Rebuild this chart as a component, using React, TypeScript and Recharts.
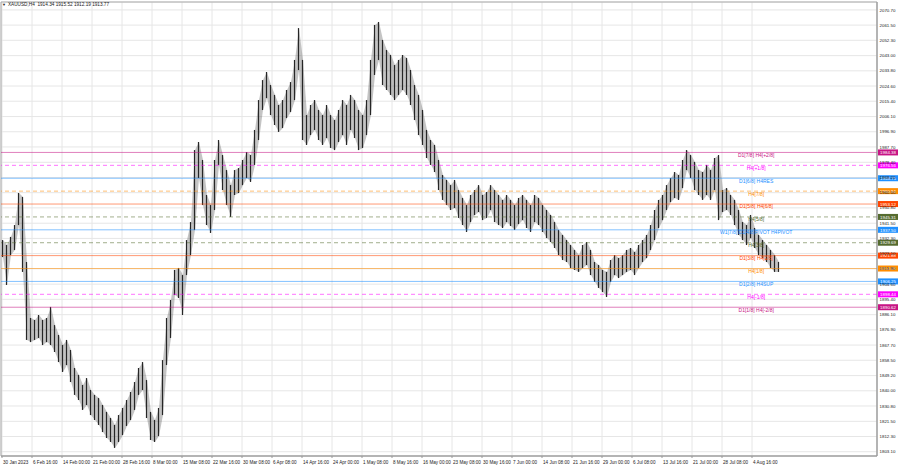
import React from "react";
import {
  Area,
  Bar,
  CartesianGrid,
  ComposedChart,
  ReferenceArea,
  ReferenceLine,
  XAxis,
  YAxis,
} from "recharts";

const HIGHS = [
  1931.3, 1928.3, 1933.2, 1940.4, 1959.8, 1957.4, 1918.0, 1884.1, 1882.9, 1885.9,
  1882.9, 1884.1, 1890.8, 1879.8, 1873.8, 1867.7, 1870.8, 1864.7, 1853.8, 1849.6,
  1843.5, 1847.7, 1840.5, 1837.5, 1835.6, 1831.4, 1827.2, 1823.5, 1819.3, 1825.3,
  1829.6, 1834.4, 1839.3, 1845.3, 1853.8, 1857.4, 1846.5, 1827.2, 1822.3, 1829.6,
  1858.6, 1884.1, 1895.0, 1913.2, 1914.4, 1910.1, 1931.3, 1942.2, 1985.8, 1990.7,
  1979.8, 1958.6, 1952.5, 1979.8, 1991.9, 1982.8, 1973.7, 1964.6, 1973.7, 1974.9,
  1979.8, 1984.6, 1982.8, 1998.0, 2016.1, 2028.2, 2033.1, 2025.2, 2019.2, 2013.1,
  2016.1, 2022.2, 2027.0, 2040.4, 2059.7, 2040.4, 2007.0, 2013.1, 2016.1, 2010.1,
  2007.0, 2013.1, 2007.0, 2004.0, 2010.1, 2016.1, 2013.1, 2019.2, 2016.1, 2010.1,
  2007.0, 2016.1, 2040.4, 2061.6, 2063.4, 2052.5, 2046.4, 2043.4, 2037.3, 2040.4,
  2043.4, 2041.6, 2034.3, 2025.2, 2019.2, 2010.1, 1998.0, 1991.9, 1988.9, 1979.8,
  1970.7, 1967.7, 1964.6, 1967.7, 1961.6, 1956.8, 1952.5, 1958.6, 1961.6, 1964.6,
  1958.6, 1960.4, 1964.6, 1961.6, 1958.6, 1955.6, 1958.6, 1955.6, 1952.5, 1956.8,
  1958.6, 1955.6, 1952.5, 1958.6, 1956.8, 1952.5, 1949.5, 1946.5, 1942.2, 1937.4,
  1934.4, 1931.3, 1928.3, 1925.3, 1922.2, 1928.3, 1930.1, 1925.3, 1918.0, 1916.2,
  1913.2, 1912.0, 1919.2, 1922.2, 1920.4, 1922.2, 1925.3, 1926.5, 1924.1, 1928.3,
  1931.3, 1934.4, 1940.4, 1949.5, 1955.6, 1958.6, 1964.6, 1968.9, 1972.5, 1970.7,
  1979.8, 1985.8, 1982.8, 1978.6, 1973.7, 1972.5, 1976.8, 1973.7, 1981.0, 1982.8,
  1961.6, 1962.8, 1958.6, 1955.6, 1949.5, 1942.2, 1940.4, 1946.5, 1938.6, 1934.4,
  1931.3, 1928.3, 1925.3, 1922.2, 1918.0,
];

const LOWS = [
  1921.0, 1904.1, 1922.2, 1925.3, 1940.4, 1912.0, 1870.8, 1869.5, 1870.8, 1872.0,
  1867.7, 1869.5, 1867.7, 1863.5, 1857.4, 1851.4, 1855.6, 1845.3, 1837.5, 1834.4,
  1828.4, 1831.4, 1825.3, 1822.3, 1819.3, 1815.0, 1811.4, 1809.0, 1805.4, 1809.0,
  1813.2, 1818.7, 1822.3, 1828.4, 1837.5, 1840.5, 1823.5, 1810.2, 1809.0, 1812.6,
  1825.3, 1855.6, 1872.0, 1898.0, 1896.2, 1885.9, 1910.1, 1922.2, 1937.4, 1968.9,
  1952.5, 1940.4, 1935.6, 1949.5, 1976.8, 1961.6, 1952.5, 1945.3, 1958.6, 1959.8,
  1964.6, 1968.9, 1966.5, 1976.8, 1991.9, 2010.1, 2017.3, 2007.0, 2001.0, 1996.8,
  1999.2, 2005.2, 2008.9, 2016.1, 2034.3, 1991.9, 1988.9, 1994.9, 1998.0, 1991.9,
  1988.9, 1993.1, 1987.1, 1985.8, 1990.7, 1994.9, 1988.9, 1998.0, 1993.1, 1985.8,
  1987.1, 1994.9, 2007.0, 2031.3, 2040.4, 2025.2, 2022.2, 2019.2, 2016.1, 2019.2,
  2022.2, 2019.2, 2013.1, 2004.0, 1994.9, 1988.9, 1981.0, 1976.8, 1972.5, 1961.6,
  1955.6, 1952.5, 1949.5, 1950.7, 1944.7, 1940.4, 1936.2, 1942.2, 1946.5, 1948.3,
  1943.4, 1944.7, 1949.5, 1942.2, 1940.4, 1938.6, 1942.2, 1939.8, 1937.4, 1941.0,
  1943.4, 1938.6, 1936.2, 1942.2, 1940.4, 1936.2, 1932.5, 1930.1, 1926.5, 1922.2,
  1919.2, 1918.0, 1914.4, 1913.2, 1912.0, 1914.4, 1916.2, 1910.1, 1905.9, 1902.3,
  1899.8, 1896.8, 1905.9, 1910.1, 1908.3, 1910.1, 1912.0, 1913.2, 1910.1, 1914.4,
  1918.0, 1920.4, 1925.3, 1931.3, 1938.6, 1943.4, 1949.5, 1954.3, 1956.8, 1955.6,
  1962.8, 1973.7, 1968.9, 1961.6, 1958.6, 1955.6, 1958.6, 1955.6, 1961.6, 1943.4,
  1948.3, 1949.5, 1946.5, 1940.4, 1934.4, 1931.3, 1928.3, 1932.5, 1926.5, 1922.2,
  1920.4, 1918.0, 1914.4, 1912.0, 1912.0,
];

const TIME_LABELS = [
  "30 Jan 2023", "6 Feb 16:00", "14 Feb 00:00", "21 Feb 00:00", "28 Feb 16:00",
  "8 Mar 00:00", "15 Mar 08:00", "22 Mar 16:00", "30 Mar 08:00", "6 Apr 08:00",
  "14 Apr 16:00", "24 Apr 00:00", "1 May 08:00", "8 May 16:00", "16 May 00:00",
  "23 May 08:00", "30 May 16:00", "7 Jun 00:00", "14 Jun 08:00", "21 Jun 16:00",
  "29 Jun 00:00", "6 Jul 08:00", "13 Jul 16:00", "21 Jul 00:00", "28 Jul 08:00",
  "4 Aug 16:00",
];

const PRICE_TICKS = [
  2070.7, 2061.5, 2052.3, 2043.0, 2033.8, 2024.6, 2015.4, 2006.1, 1996.9, 1987.7,
  1978.4, 1969.2, 1960.0, 1950.8, 1941.5, 1932.3, 1923.1, 1913.9, 1904.6, 1895.4,
  1886.1, 1876.9, 1867.7, 1858.5, 1849.2, 1840.0, 1830.8, 1821.5, 1812.3, 1803.1,
];

const LEVEL_PRICES = [
  1984.38, 1976.56, 1968.75, 1960.94, 1953.12, 1945.31, 1937.5, 1929.69, 1921.88,
  1914.06, 1906.25, 1898.44, 1890.62,
];
const LEVEL_NAMES = [
  "D1[7/8] H4[+2/8]", "H4[+1/8]", "D1[6/8] H4RES", "H4[7/8]", "D1[5/8] H4[6/8]",
  "H4[5/8]", "W1[7/8] D1[4/8]PIVOT H4PIVOT", "H4[3/8]", "D1[3/8] H4[2/8]", "H4[1/8]",
  "D1[2/8] H4SUP", "H4[-1/8]", "D1[1/8] H4[-2/8]",
];
const TITLE = "XAUUSD,H4  1914.34 1915.52 1912.19 1913.77";

// styles
const LEVEL_COLORS = [
  "#c71585", "#ff00ff", "#1e90ff", "#ff8c00", "#ff4500", "#556b2f", "#1e90ff",
  "#556b2f", "#ff4500", "#ff8c00", "#1e90ff", "#ff00ff", "#c71585",
];
const LEVEL_DASHED = [false, true, false, true, false, true, false, true, false, false, false, true, false];
const FONT = "'Liberation Sans', Arial, sans-serif";
const X_MIN = -0.5;
const X_MAX = 218.5;
const LABEL_SLOT = 188.3;

const rows = HIGHS.map((h, i) => ({ i, range: [LOWS[i], h] }));
const timeTicks = TIME_LABELS.map((_, k) => k * 7.5 - 0.25);

function TimeTick({ x, y, payload }: any) {
  const k = Math.round((payload.value + 0.25) / 7.5);
  return (
    <text x={x + 1} y={y + 6} fontSize={4.6} fill="#222" fontFamily={FONT}>
      {TIME_LABELS[k]}
    </text>
  );
}

function PriceTick({ x, y, payload }: any) {
  return (
    <text x={x + 2.5} y={y + 1.6} fontSize={4.4} fill="#222" fontFamily={FONT}>
      {payload.value.toFixed(2)}
    </text>
  );
}

// thin candle stroke, like a dense H4 chart at low zoom
function Wick({ x, y, width, height }: any) {
  if (height == null || isNaN(height)) return null;
  return <rect x={x + width / 2 - 0.6} y={y} width={1.2} height={Math.max(height, 1)} fill="#262626" />;
}

function LevelLabel({ viewBox, idx }: any) {
  if (!viewBox) return null;
  const { x, y, width } = viewBox;
  const color = LEVEL_COLORS[idx];
  const tx = x + (width * (LABEL_SLOT - X_MIN)) / (X_MAX - X_MIN);
  return (
    <g>
      <text x={tx} y={y + 4.4} textAnchor="middle" fontSize={5} fill={color} fontFamily={FONT}>
        {LEVEL_NAMES[idx]}
      </text>
      <rect x={x + width + 1} y={y - 3} width={20} height={6} fill={color} />
      <text
        x={x + width + 11}
        y={y + 1.7}
        textAnchor="middle"
        fontSize={4.4}
        fill="#fff"
        fontFamily={FONT}
      >
        {LEVEL_PRICES[idx].toFixed(2)}
      </text>
    </g>
  );
}

export default function App() {
  return (
    <div
      style={{
        position: "absolute",
        left: 0,
        top: 0,
        width: 900,
        height: 468,
        background: "#fff",
        overflow: "hidden",
      }}
    >
      <ComposedChart
        width={900}
        height={468}
        data={rows}
        margin={{ top: 2, right: 0, bottom: 0, left: 1 }}
      >
        <CartesianGrid stroke="#e6e6e6" strokeWidth={1} />
        <XAxis
          type="number"
          dataKey="i"
          domain={[X_MIN, X_MAX]}
          ticks={timeTicks}
          interval={0}
          height={12}
          tickSize={2}
          tickMargin={0}
          tickLine={{ stroke: "#999" }}
          axisLine={{ stroke: "#999" }}
          tick={<TimeTick />}
          allowDataOverflow
        />
        <YAxis
          orientation="right"
          domain={[1800.5, 2075.5]}
          ticks={PRICE_TICKS}
          interval={0}
          width={23}
          tickSize={0}
          tickMargin={0}
          tickLine={false}
          axisLine={{ stroke: "#999" }}
          tick={<PriceTick />}
          allowDataOverflow
        />
        <ReferenceArea
          x1={X_MIN}
          x2={X_MAX}
          y1={1800.5}
          y2={2075.5}
          fill="none"
          stroke="#aaa"
          strokeWidth={1}
        />
        {LEVEL_PRICES.map((p, idx) => (
          <ReferenceLine
            key={idx}
            y={p}
            stroke={LEVEL_COLORS[idx]}
            strokeOpacity={0.55}
            strokeWidth={1}
            strokeDasharray={LEVEL_DASHED[idx] ? "4 3" : undefined}
            label={<LevelLabel idx={idx} />}
          />
        ))}
        <Area
          dataKey="range"
          type="linear"
          stroke="none"
          fill="#555"
          fillOpacity={0.35}
          isAnimationActive={false}
        />
        <Bar dataKey="range" barSize={3} shape={<Wick />} isAnimationActive={false} />
      </ComposedChart>
      <div
        style={{
          position: "absolute",
          left: 2,
          top: 2,
          fontFamily: FONT,
          fontSize: 4.7,
          color: "#222",
          whiteSpace: "pre",
          lineHeight: "6px",
        }}
      >
        <span style={{ fontSize: 4, marginRight: 2 }}>▼</span>
        {TITLE}
      </div>
    </div>
  );
}
